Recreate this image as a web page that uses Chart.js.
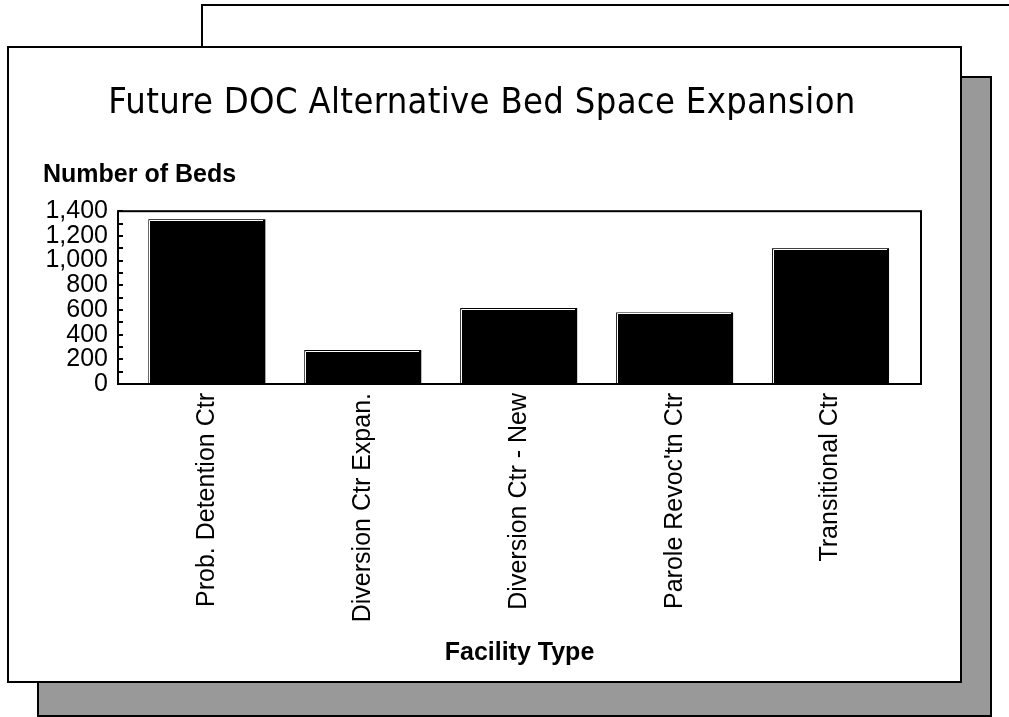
<!DOCTYPE html>
<html>
<head>
<meta charset="utf-8">
<title>Future DOC Alternative Bed Space Expansion</title>
<script src="https://cdn.jsdelivr.net/npm/chart.js"></script>
<style>
  body { margin: 0; width: 1009px; height: 717px; overflow: hidden; background: #fff; position: relative; }
  .box { position: absolute; box-sizing: border-box; border: 2px solid #000; }
  #backFrame { left: 201px; top: 4px; width: 900px; height: 200px; background: #fff; border-right: none; border-bottom: none; }
  #shadow { left: 37px; top: 76px; width: 955px; height: 641px; background: #999; }
  #card { left: 7px; top: 46px; width: 955px; height: 637px; background: #fff; }
  #bedChart { position: absolute; left: 43px; top: 48px; }
</style>
</head>
<body>
<div class="box" id="backFrame"></div>
<div class="box" id="shadow"></div>
<div class="box" id="card"></div>
<canvas id="bedChart" width="900" height="632"></canvas>
<script>
// chart data
const categories = ['Prob. Detention Ctr', 'Diversion Ctr Expan.', 'Diversion Ctr - New', "Parole Revoc'tn Ctr", 'Transitional Ctr'];
const bedCounts = [1335, 275, 615, 580, 1100];
const yTicks = [0, 200, 400, 600, 800, 1000, 1200, 1400];

const titleFont = "'Liberation Sans Narrow', 'DejaVu Sans Condensed', 'Liberation Sans', sans-serif";
const titleWidth = 747; // width of the title line in the picture

Chart.defaults.font.family = "'Liberation Sans', Arial, sans-serif";
Chart.defaults.color = '#000';

// stretch the title out with letter spacing, like the old printout
const spacedTitle = {
  id: 'spacedTitle',
  beforeDraw(chart) {
    const tb = chart.titleBlock;
    if (!tb || tb._spaced) return;
    const orig = tb.draw;
    tb.draw = function (area) {
      const ctx = this.ctx;
      const f = this.options.font;
      ctx.save();
      ctx.font = `${f.weight || 'normal'} ${f.size}px ${f.family}`;
      ctx.letterSpacing = '0px';
      const text = this.options.text;
      const w = ctx.measureText(text).width;
      const gap = Math.max(0, (titleWidth - w) / (text.length - 1));
      ctx.letterSpacing = gap + 'px';
      orig.call(this, area);
      ctx.restore();
    };
    tb._spaced = true;
  }
};

// plot frame, inward tick marks and the white inner edge of each bar
const chartFrame = {
  id: 'chartFrame',
  afterDatasetsDraw(chart) {
    const { ctx, chartArea: a } = chart;
    const y = chart.scales.y;
    ctx.save();
    ctx.strokeStyle = '#fff';
    ctx.lineWidth = 1;
    chart.getDatasetMeta(0).data.forEach(bar => {
      const left = Math.round(bar.x - bar.width / 2);
      const right = Math.round(bar.x + bar.width / 2);
      const top = Math.round(bar.y);
      ctx.beginPath();
      ctx.moveTo(left + 1.5, bar.base);
      ctx.lineTo(left + 1.5, top + 1.5);
      ctx.lineTo(right - 2, top + 1.5);
      ctx.stroke();
    });
    ctx.strokeStyle = '#000';
    ctx.lineWidth = 2;
    ctx.strokeRect(a.left, a.top, a.right - a.left, a.bottom - a.top);
    y.ticks.forEach(t => {
      const py = Math.round(y.getPixelForValue(t.value));
      ctx.beginPath();
      ctx.moveTo(a.left, py);
      ctx.lineTo(a.left + 5, py);
      ctx.stroke();
    });
    ctx.restore();
  }
};

const ctx = document.getElementById('bedChart').getContext('2d');

const bedChart = new Chart(ctx, {
  type: 'bar',
  data: {
    datasets: [{
      data: categories.map((c, i) => ({ x: i, y: bedCounts[i] })),
      backgroundColor: '#000',
      borderWidth: 0,
      barPercentage: 0.75,
      categoryPercentage: 1
    }]
  },
  options: {
    responsive: false,
    animation: false,
    layout: { padding: { left: 0, right: 22, top: 0, bottom: 12 } },
    plugins: {
      legend: { display: false },
      tooltip: { enabled: false },
      title: {
        display: true,
        text: 'Future DOC Alternative Bed Space Expansion',
        font: { family: titleFont, size: 36, weight: 'normal' },
        padding: { top: 34, bottom: 35 }
      },
      subtitle: {
        display: true,
        text: 'Number of Beds',
        align: 'start',
        font: { size: 25, weight: 'bold' },
        padding: { top: 0, bottom: 21 }
      }
    },
    scales: {
      x: {
        type: 'linear',
        min: -0.57,
        max: 4.58,
        offset: false,
        grid: { display: false, drawTicks: false },
        border: { display: false },
        ticks: {
          stepSize: 1,
          includeBounds: false,
          autoSkip: false,
          maxRotation: 90,
          minRotation: 90,
          padding: 9,
          font: { size: 25 },
          callback: v => categories[v] ?? ''
        },
        title: { display: true, text: 'Facility Type', font: { size: 25, weight: 'bold' }, padding: 0 },
        afterFit(s) { s.height = 284; }
      },
      y: {
        min: 0,
        max: 1400,
        grid: { display: false, drawTicks: false },
        border: { display: false },
        ticks: {
          stepSize: 100,
          autoSkip: false,
          padding: 10,
          font: { size: 25 },
          callback: v => yTicks.includes(v) ? v.toLocaleString('en-US') : ''
        },
        afterFit(s) { s.width = 75; }
      }
    }
  },
  plugins: [spacedTitle, chartFrame]
});
</script>
</body>
</html>
